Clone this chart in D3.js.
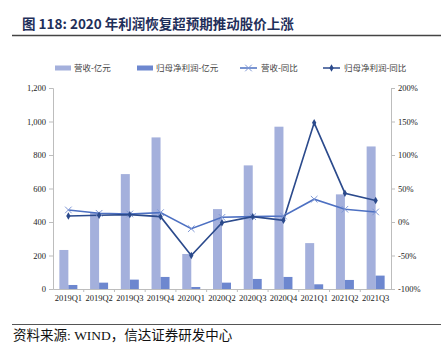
<!DOCTYPE html>
<html>
<head>
<meta charset="utf-8">
<script src="https://cdn.jsdelivr.net/npm/d3@7"></script>
<style>
  body { margin: 0; background: #fff; }
  svg text { font-family: "Liberation Serif", "Noto Sans CJK SC", serif; }
  .cjk { font-family: "Noto Sans CJK SC", sans-serif; }
</style>
</head>
<body>
<script>
// quarterly revenue / net profit (亿元) and their YoY growth (%)
var quarters = ["2019Q1","2019Q2","2019Q3","2019Q4","2020Q1","2020Q2","2020Q3","2020Q4","2021Q1","2021Q2","2021Q3"];
var revenue = [233, 455, 686, 905, 209, 477, 738, 969, 274, 565, 851];
var netProfit = [24, 38, 56, 72, 12, 38, 60, 72, 28, 54, 80];
var revenueYoy = [18, 13, 12, 14, -10, 7, 8, 9, 34, 19, 15];
var profitYoy = [9, 10, 11, 8, -50, -1, 8, 2.5, 148, 43, 32];
var leftTicks = [0, 200, 400, 600, 800, 1000, 1200];
var rightTicks = [-100, -50, 0, 50, 100, 150, 200];

var W = 444, H = 347;
var svg = d3.select("body").append("svg").attr("width", W).attr("height", H);

// header
svg.append("text").attr("class", "cjk")
  .attr("x", 22).attr("y", 29)
  .attr("font-size", 13.5).attr("font-weight", "bold").attr("fill", "#1f2f5a")
  .text("图 118: 2020 年利润恢复超预期推动股价上涨");
svg.append("line").attr("x1", 12).attr("x2", 441).attr("y1", 35.5).attr("y2", 35.5)
  .attr("stroke", "#444").attr("stroke-width", 1.5);

var x0 = 53, x1 = 391, yTop = 88, yBot = 289;

var x = d3.scaleBand().domain(quarters).range([x0, x1]);
var yL = d3.scaleLinear().domain([0, 1200]).range([yBot, yTop]);
var yR = d3.scaleLinear().domain([-100, 200]).range([yBot, yTop]);

var barW = 9;
var cRev = "#a4b0dc", cProfit = "#6d87cf", cRevLine = "#4d70c2", cProfitLine = "#2b4a8c";

svg.append("g").selectAll("rect").data(revenue).enter().append("rect")
  .attr("x", function(d, i) { return x(quarters[i]) + x.bandwidth() / 2 - barW; })
  .attr("y", function(d) { return yL(d); })
  .attr("width", barW)
  .attr("height", function(d) { return yBot - yL(d); })
  .attr("fill", cRev);

svg.append("g").selectAll("rect").data(netProfit).enter().append("rect")
  .attr("x", function(d, i) { return x(quarters[i]) + x.bandwidth() / 2; })
  .attr("y", function(d) { return yL(d); })
  .attr("width", barW)
  .attr("height", function(d) { return yBot - yL(d); })
  .attr("fill", cProfit);

// axes
var axL = svg.append("g").attr("transform", "translate(" + x0 + ",0)")
  .call(d3.axisLeft(yL).tickValues(leftTicks).tickSize(4).tickPadding(3).tickFormat(d3.format(",")));
var axR = svg.append("g").attr("transform", "translate(" + x1 + ",0)")
  .call(d3.axisRight(yR).tickValues(rightTicks).tickSize(4).tickPadding(3).tickFormat(function(d) { return d + "%"; }));
var axB = svg.append("g").attr("transform", "translate(0," + yBot + ")")
  .call(d3.axisBottom(x).tickSize(0).tickPadding(6));
[axL, axR, axB].forEach(function(a) {
  a.select(".domain").attr("stroke", "#bdbdbd");
  a.selectAll(".tick line").attr("stroke", "#bdbdbd");
  a.selectAll("text").attr("font-size", 8.5).attr("fill", "#222")
    .attr("font-family", "Liberation Serif, serif");
});
// separators between categories on the x axis
svg.append("g").selectAll("line").data(quarters.slice(1)).enter().append("line")
  .attr("x1", function(d) { return x(d); }).attr("x2", function(d) { return x(d); })
  .attr("y1", yBot).attr("y2", yBot + 3).attr("stroke", "#bdbdbd");

function cx(i) { return x(quarters[i]) + x.bandwidth() / 2; }

var lineRev = d3.line().x(function(d, i) { return cx(i); }).y(function(d) { return yR(d); });
svg.append("path").datum(revenueYoy).attr("d", lineRev)
  .attr("fill", "none").attr("stroke", cRevLine).attr("stroke-width", 1.6);
svg.append("path").datum(profitYoy).attr("d", lineRev)
  .attr("fill", "none").attr("stroke", cProfitLine).attr("stroke-width", 1.6);

// x markers on revenue growth
var xm = d3.symbol().type(d3.symbolX).size(30);
svg.append("g").selectAll("path").data(revenueYoy).enter().append("path")
  .attr("transform", function(d, i) { return "translate(" + cx(i) + "," + yR(d) + ")"; })
  .attr("d", xm).attr("fill", "none").attr("stroke", "#7f98d6").attr("stroke-width", 1);
// diamond markers on profit growth
var dm = d3.symbol().type(d3.symbolDiamond).size(16);
svg.append("g").selectAll("path").data(profitYoy).enter().append("path")
  .attr("transform", function(d, i) { return "translate(" + cx(i) + "," + yR(d) + ")"; })
  .attr("d", dm).attr("fill", cProfitLine);

// legend
var lg = svg.append("g").attr("class", "cjk");
var ly = 68;
lg.append("rect").attr("x", 55).attr("y", ly - 2.5).attr("width", 16).attr("height", 5).attr("fill", cRev);
lg.append("text").attr("x", 74).attr("y", ly + 3).attr("font-size", 8.5).attr("fill", "#444")
  .attr("font-family", "Noto Sans CJK SC").text("营收-亿元");
lg.append("rect").attr("x", 137).attr("y", ly - 2.5).attr("width", 16).attr("height", 5).attr("fill", cProfit);
lg.append("text").attr("x", 156).attr("y", ly + 3).attr("font-size", 8.5).attr("fill", "#444")
  .attr("font-family", "Noto Sans CJK SC").text("归母净利润-亿元");
lg.append("line").attr("x1", 240).attr("x2", 257).attr("y1", ly).attr("y2", ly).attr("stroke", cRevLine).attr("stroke-width", 1.5);
lg.append("path").attr("transform", "translate(248.5," + ly + ")").attr("d", xm)
  .attr("fill", "none").attr("stroke", "#7f98d6");
lg.append("text").attr("x", 261).attr("y", ly + 3).attr("font-size", 8.5).attr("fill", "#444")
  .attr("font-family", "Noto Sans CJK SC").text("营收-同比");
lg.append("line").attr("x1", 323).attr("x2", 340).attr("y1", ly).attr("y2", ly).attr("stroke", cProfitLine).attr("stroke-width", 1.5);
lg.append("path").attr("transform", "translate(331.5," + ly + ")").attr("d", dm).attr("fill", cProfitLine);
lg.append("text").attr("x", 344).attr("y", ly + 3).attr("font-size", 8.5).attr("fill", "#444")
  .attr("font-family", "Noto Sans CJK SC").text("归母净利润-同比");

// footer
svg.append("line").attr("x1", 12).attr("x2", 441).attr("y1", 324.5).attr("y2", 324.5)
  .attr("stroke", "#555").attr("stroke-width", 1.2);
svg.append("text").attr("x", 13).attr("y", 339.5).attr("font-size", 13.5).attr("fill", "#111")
  .attr("font-family", "Noto Sans CJK SC").text("资料来源: WIND，信达证券研发中心");
</script>
</body>
</html>
